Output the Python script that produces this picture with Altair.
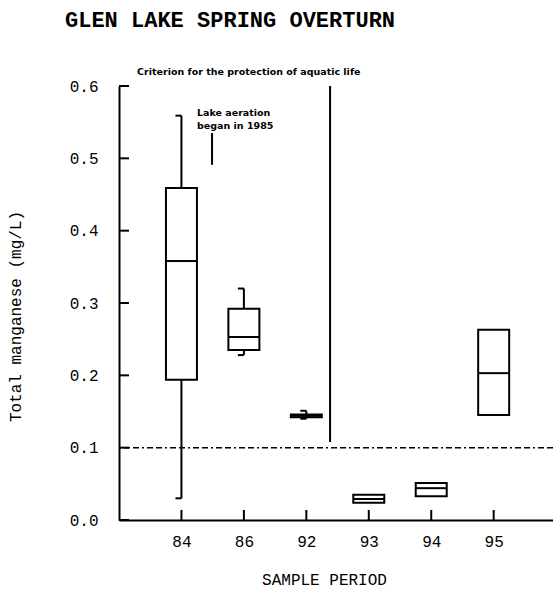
import altair as alt
import pandas as pd

# ---- data ----
periods = ["84", "86", "92", "93", "94", "95"]
lower = [0.030, 0.228, 0.140, None, None, None]
q1 = [0.194, 0.235, 0.142, 0.024, 0.033, 0.145]
median = [0.358, 0.253, 0.144, 0.029, 0.044, 0.203]
q3 = [0.459, 0.292, 0.146, 0.035, 0.051, 0.263]
upper = [0.559, 0.320, 0.151, None, None, None]

y_ticks = [0.0, 0.1, 0.2, 0.3, 0.4, 0.5, 0.6]
criterion_value = 0.1
criterion_pos = 3.38          # between 92 and 93
criterion_top = 0.6
criterion_bottom = 0.108
criterion_text = "Criterion for the protection of aquatic life"
criterion_text_pos = 0.29
criterion_text_y = 0.62
aeration_lines = ["Lake aeration", "began in 1985"]
aeration_pos = 1.25
aeration_y = [0.563, 0.545]
aeration_mark_pos = 1.49
aeration_mark_y = [0.535, 0.491]

# ---- tables ----
pos = list(range(1, len(periods) + 1))
df = pd.DataFrame({"period": periods, "pos": pos, "lower": lower, "q1": q1,
                   "median": median, "q3": q3, "upper": upper})
wdf = df.dropna(subset=["lower", "upper"])

FONT = "Liberation Mono"
SMALL = "DejaVu Sans"
xs = alt.Scale(domain=[0, 6.95], nice=False, zero=False, padding=0)
ys = alt.Scale(domain=[0, 0.6], nice=False, zero=False)
label_expr = "[" + ",".join(f"'{p}'" for p in periods) + "][datum.value-1]"

xaxis = alt.Axis(values=pos, labelExpr=label_expr, ticks=False, tickSize=0,
                 grid=False, domainColor="black", domainWidth=2,
                 labelFont=FONT, labelFontSize=16, labelColor="black",
                 labelPadding=13, title="SAMPLE PERIOD", titleFont=FONT,
                 titleFontSize=16, titleFontWeight="normal", titleColor="black",
                 titleX=205, titleY=51, titleAlign="center", titleBaseline="top")
yaxis = alt.Axis(values=y_ticks, format=".1f", ticks=False, tickSize=0,
                 grid=False, domainColor="black", domainWidth=2,
                 labelFont=FONT, labelFontSize=16, labelColor="black",
                 labelPadding=21, title="Total manganese (mg/L)", titleFont=FONT,
                 titleFontSize=16, titleFontWeight="normal", titleColor="black",
                 titleX=-104, titleY=230, titleAlign="center",
                 titleBaseline="middle", titleAngle=270)


def X(f):
    return alt.X(f"{f}:Q", scale=xs, axis=xaxis)


def Y(f):
    return alt.Y(f"{f}:Q", scale=ys, axis=yaxis)


base = alt.Chart(df)

boxes = base.mark_bar(size=31, fill="white", fillOpacity=0, stroke="black",
                      strokeWidth=2).encode(x=X("pos"), y=Y("q1"), y2="q3")
medians = base.mark_tick(orient="horizontal", size=31, thickness=2,
                         color="black", opacity=1).encode(x=X("pos"), y=Y("median"))
wb = alt.Chart(wdf)
up_whisk = wb.mark_rule(color="black", strokeWidth=2).encode(
    x=X("pos"), y=Y("q3"), y2="upper")
lo_whisk = wb.mark_rule(color="black", strokeWidth=2).encode(
    x=X("pos"), y=Y("lower"), y2="q1")
up_cap = wb.mark_tick(orient="horizontal", size=6, thickness=2, xOffset=-3,
                      color="black", opacity=1).encode(x=X("pos"), y=Y("upper"))
lo_cap = wb.mark_tick(orient="horizontal", size=6, thickness=2, xOffset=-3,
                      color="black", opacity=1).encode(x=X("pos"), y=Y("lower"))

# inward ticks
ytick_df = pd.DataFrame({"v": y_ticks})
yticks = alt.Chart(ytick_df).mark_rule(color="black", strokeWidth=2).encode(
    y=Y("v"), x=alt.value(0), x2=alt.value(10))
xtick_df = pd.DataFrame({"pos": pos})
xticks = alt.Chart(xtick_df).mark_rule(color="black", strokeWidth=2).encode(
    x=X("pos"), y=alt.value(434), y2=alt.value(424))

# criterion lines
crit_h = alt.Chart(pd.DataFrame({"v": [criterion_value]})).mark_rule(
    color="black", strokeWidth=1.5, strokeDash=[6, 3, 6, 3, 2, 3]).encode(y=Y("v"))
crit_v = alt.Chart(pd.DataFrame({"pos": [criterion_pos], "a": [criterion_top],
                                 "b": [criterion_bottom]})).mark_rule(
    color="black", strokeWidth=2).encode(x=X("pos"), y=Y("a"), y2="b")
crit_t = alt.Chart(pd.DataFrame({"pos": [criterion_text_pos],
                                 "v": [criterion_text_y],
                                 "t": [criterion_text]})).mark_text(
    align="left", baseline="middle", font=SMALL, fontSize=9.5,
    fontWeight="bold", color="black").encode(x=X("pos"), y=Y("v"), text="t:N")

aer_t = alt.Chart(pd.DataFrame({"pos": [aeration_pos] * 2, "v": aeration_y,
                                "t": aeration_lines})).mark_text(
    align="left", baseline="middle", font=SMALL, fontSize=9.5,
    fontWeight="bold", color="black").encode(x=X("pos"), y=Y("v"), text="t:N")
aer_l = alt.Chart(pd.DataFrame({"pos": [aeration_mark_pos],
                                "a": [aeration_mark_y[0]],
                                "b": [aeration_mark_y[1]]})).mark_rule(
    color="black", strokeWidth=2).encode(x=X("pos"), y=Y("a"), y2="b")

chart = alt.layer(
    boxes, medians, up_whisk, lo_whisk, up_cap, lo_cap, yticks, xticks,
    crit_h, crit_v, crit_t, aer_t, aer_l
).properties(
    width=434, height=434,
    background="white",
    autosize=alt.AutoSizeParams(type="none"),
    padding={"left": 119, "top": 86, "right": 0, "bottom": 70},
    title=alt.TitleParams("GLEN LAKE SPRING OVERTURN", anchor="start",
                          frame="group", dx=-54, offset=18, font=FONT,
                          fontSize=22, fontWeight="bold", color="black",
                          baseline="alphabetic"),
).configure_view(stroke=None)

chart.save("out.html", embed_options={"renderer": "svg", "actions": False})
